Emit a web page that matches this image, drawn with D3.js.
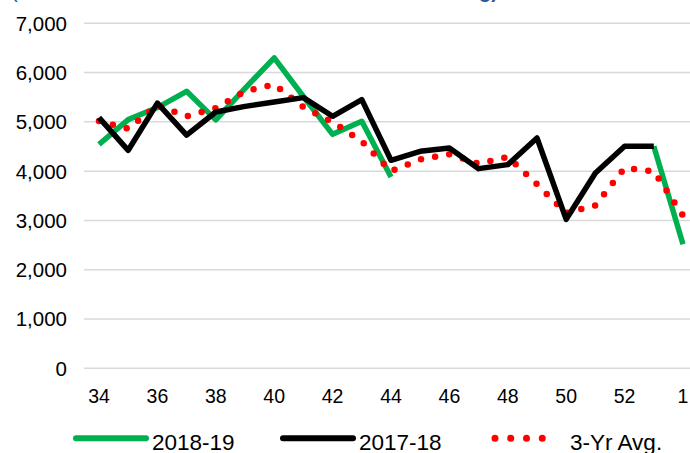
<!DOCTYPE html>
<html>
<head>
<meta charset="utf-8">
<script src="https://cdn.jsdelivr.net/npm/d3@7"></script>
<style>
  body { margin: 0; background: #fff; }
  svg { display: block; font-family: "Liberation Sans", Arial, sans-serif; }
</style>
</head>
<body>
<div id="chart"></div>
<script>
// week numbers along the x axis
const weeks = ["34","35","36","37","38","39","40","41","42","43","44",
               "45","46","47","48","49","50","51","52","53","1"];
const tickWeeks = ["34","36","38","40","42","44","46","48","50","52","1"];
const yTicks = [0, 1000, 2000, 3000, 4000, 5000, 6000, 7000];

// series values
const s2018 = [4545, 5046, 5290, 5620, 5040, 5680, 6300, 5515, 4747, 5011, 3882,
               null, null, null, null, null, null, null, null, 4504, 2516];
const s2017 = [5086, 4423, 5380, 4730, 5200, 5315, 5403, 5492, 5113, 5451, 4220,
               4402, 4470, 4051, 4133, 4673, 3023, 3963, 4504, 4504, null];
const avg3  = [5018, 4862, 5336, 5113, 5281, 5620, 5760, 5301, 4998, 4605, 3997,
               4240, 4342, 4153, 4287, 3733, 3151, 3307, 4064, 3997, 3100];

const legendItems = [
  { name: "2018-19", color: "#00b050", dotted: false },
  { name: "2017-18", color: "#000000", dotted: false },
  { name: "3-Yr Avg.", color: "#ff0000", dotted: true }
];

const width = 690, height = 453;

const svg = d3.select("#chart").append("svg")
  .attr("width", width)
  .attr("height", height);

// scales
const x = d3.scalePoint().domain(weeks).range([99, 99 + 20 * 29.2]);
const y = d3.scaleLinear().domain([0, 7000]).range([368.3, 23.3]);

// title, cut off at the top edge of the picture
svg.append("text")
  .attr("x", 11).attr("y", -2)
  .attr("fill", "#2f5597")
  .style("font-size", "20px")
  .text("(");
svg.append("text")
  .attr("x", 498).attr("y", -2)
  .attr("text-anchor", "end")
  .attr("fill", "#2f5597")
  .style("font-size", "20px")
  .style("font-weight", "bold")
  .text("g)");

// gridlines
svg.append("g")
  .selectAll("line")
  .data(yTicks)
  .join("line")
  .attr("x1", 84).attr("x2", width)
  .attr("y1", d => y(d)).attr("y2", d => y(d))
  .attr("stroke", "#d9d9d9")
  .attr("stroke-width", 1.5);

// y axis labels
svg.append("g")
  .selectAll("text")
  .data(yTicks)
  .join("text")
  .attr("x", 67)
  .attr("y", d => y(d))
  .attr("dy", "0.36em")
  .attr("text-anchor", "end")
  .style("font-size", "20.5px")
  .attr("fill", "#000")
  .text(d => d3.format(",")(d));

// x axis labels
svg.append("g")
  .selectAll("text")
  .data(tickWeeks)
  .join("text")
  .attr("x", d => x(d))
  .attr("y", 403.3)
  .attr("text-anchor", "middle")
  .style("font-size", "19.5px")
  .attr("fill", "#000")
  .text(d => d);

const line = d3.line()
  .defined(d => d[1] != null)
  .x(d => x(d[0]))
  .y(d => y(d[1]));

const pairs = arr => weeks.map((w, i) => [w, arr[i]]);

// 2018-19
svg.append("path")
  .datum(pairs(s2018))
  .attr("d", line)
  .attr("fill", "none")
  .attr("stroke", "#00b050")
  .attr("stroke-width", 5.5)
  .attr("stroke-linejoin", "round");

// 3-yr average, round dots
svg.append("path")
  .datum(pairs(avg3))
  .attr("d", line)
  .attr("fill", "none")
  .attr("stroke", "#ff0000")
  .attr("stroke-width", 6.5)
  .attr("stroke-linecap", "round")
  .attr("stroke-dasharray", "0,14.3");

// 2017-18
svg.append("path")
  .datum(pairs(s2017))
  .attr("d", line)
  .attr("fill", "none")
  .attr("stroke", "#000")
  .attr("stroke-width", 5.5)
  .attr("stroke-linejoin", "round");

// legend
const legendX = [76, 283, 495];
const legend = svg.append("g")
  .selectAll("g")
  .data(legendItems)
  .join("g")
  .attr("transform", (d, i) => `translate(${legendX[i]},438.3)`);

legend.append("line")
  .attr("x1", 0).attr("x2", d => d.dotted ? 63 : 70)
  .attr("y1", 0).attr("y2", 0)
  .attr("stroke", d => d.color)
  .attr("stroke-width", d => d.dotted ? 7 : 6)
  .attr("stroke-linecap", "round")
  .attr("stroke-dasharray", d => d.dotted ? "0,15.75" : null);

legend.append("text")
  .attr("x", d => d.dotted ? 75 : 76)
  .attr("y", 12)
  .style("font-size", "22.5px")
  .attr("fill", "#000")
  .text(d => d.name);
</script>
</body>
</html>
